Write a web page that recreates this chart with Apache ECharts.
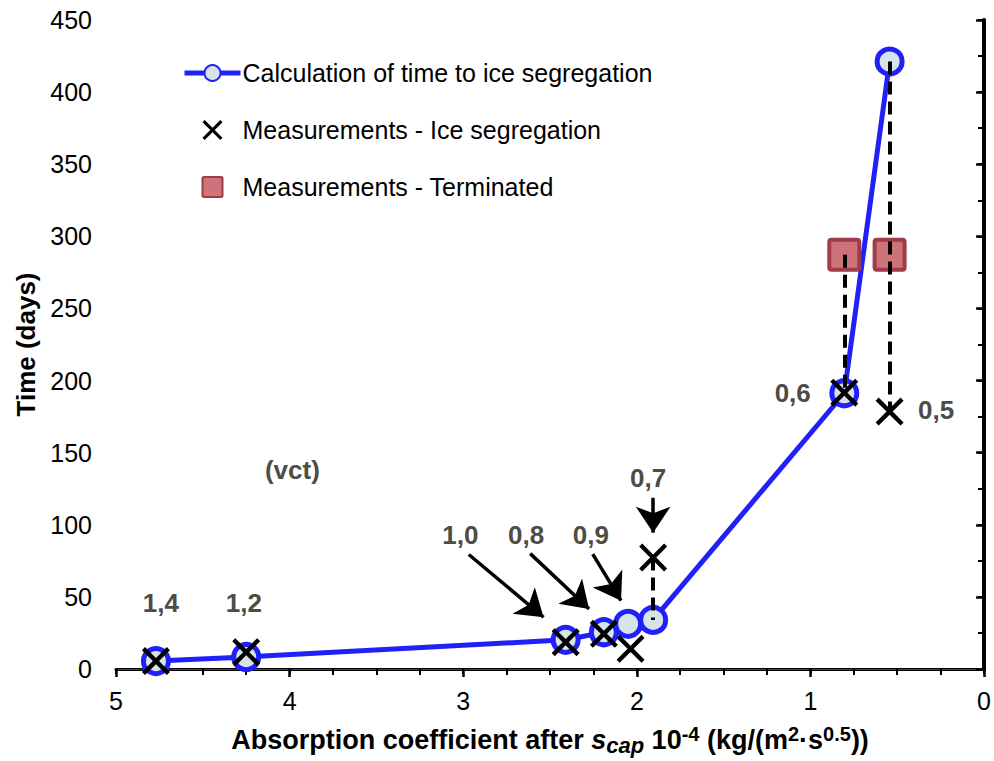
<!DOCTYPE html>
<html><head><meta charset="utf-8">
<script src="https://cdn.jsdelivr.net/npm/echarts@6/dist/echarts.min.js"></script>
<style>html,body{margin:0;padding:0;background:#fff}#c{width:994px;height:761px}</style>
</head><body><div id="c"></div>
<script>
// ---- data ----
const xCalc = [4.77, 4.25, 2.41, 2.19, 2.05, 1.906, 0.805, 0.544];
const yCalc = [5.5, 8.3, 20.2, 25.5, 31.3, 34, 191.2, 421.2];
const xIce = [4.77, 4.25, 2.41, 2.19, 2.036, 1.906, 0.805, 0.544];
const yIce = [5.5, 11.7, 18.6, 24.4, 14, 77.3, 191.6, 178.5];
const xTerm = [0.805, 0.544];
const yTerm = [287.3, 287.3];
const annTexts = ['1,4', '1,2', '1,0', '0,8', '0,9', '0,7', '0,6', '0,5', '(vct)'];
const annX = [4.742, 4.263, 3.016, 2.638, 2.265, 1.935, 1.102, 0.276, 3.984];
const annY = [45.5, 45.5, 92.8, 92.8, 92.8, 132.5, 191.2, 179.6, 138];
// arrows: [x0, y0, x1, y1] in data units
const arrows = [
  [2.968, 79.4, 2.537, 35.9],
  [2.614, 80, 2.275, 41.6],
  [2.254, 79.6, 2.091, 47.4],
  [1.906, 118.7, 1.906, 94.5]
];
const xTicks = [0, 1, 2, 3, 4, 5];
const yTicks = [0, 50, 100, 150, 200, 250, 300, 350, 400, 450];

const calcData = xCalc.map((x, i) => [x, yCalc[i]]);
const iceData = xIce.map((x, i) => [x, yIce[i]]);
const termData = xTerm.map((x, i) => [x, yTerm[i]]);
const annData = annX.map((x, i) => ({ value: [x, annY[i]], name: annTexts[i] }));
// dashed connectors between related points
const connectors = [
  [iceData[5], calcData[5]],
  [termData[0], calcData[6]],
  [calcData[7], iceData[7]]
];

const FONT = 'Liberation Sans, Arial, sans-serif';
const crossPath = 'path://M0,2.2L2.2,0L10,7.8L17.8,0L20,2.2L12.2,10L20,17.8L17.8,20L10,12.2L2.2,20L0,17.8L7.8,10Z';
const squarePath = 'path://M1.5,0H18.5Q20,0 20,1.5V18.5Q20,20 18.5,20H1.5Q0,20 0,18.5V1.5Q0,0 1.5,0Z';
const BLUE = '#2020f8';

const chart = echarts.init(document.getElementById('c'), null, { renderer: 'svg' });
chart.setOption({
  backgroundColor: '#fff',
  animation: false,
  textStyle: { fontFamily: FONT },
  grid: { left: 116, right: 7, top: 20, bottom: 89, containLabel: false },
  legend: {
    orient: 'vertical', left: 177, top: 55,
    itemWidth: 56, itemHeight: 20, itemGap: 31,
    data: [
      { name: 'Calculation of time to ice segregation', lineStyle: { width: 5 } },
      'Measurements - Ice segregation',
      'Measurements - Terminated'
    ],
    textStyle: { fontSize: 25, lineHeight: 26, color: '#000', fontFamily: FONT, padding: [0, 0, 0, -3] }
  },
  xAxis: [{
    type: 'value', min: 0, max: 5, interval: 1, inverse: true, position: 'bottom',
    axisLine: { show: true, lineStyle: { color: '#000', width: 3 } },
    splitLine: { show: false },
    axisTick: { show: true, inside: false, length: 8, lineStyle: { width: 2.5, color: '#000' } },
    minorTick: { show: true, splitNumber: 4, length: 6, lineStyle: { width: 2, color: '#000' } },
    axisLabel: { fontSize: 25, color: '#000', margin: 19, fontFamily: FONT,
      formatter: v => xTicks.includes(v) ? String(v) : '' },
    nameLocation: 'middle', nameGap: 55,
    name: '{b|Absorption coefficient after }{i|s}{sub|cap}{b| 10}{sup|-4}{b| (kg/(m}{sup|2}{b|·s}{sup|0.5}{b|))}',
    nameTextStyle: {
      rich: {
        b: { fontSize: 27, fontWeight: 'bold', fontFamily: FONT, color: '#000', lineHeight: 32, verticalAlign: 'middle' },
        i: { fontSize: 27, fontWeight: 'bold', fontStyle: 'italic', fontFamily: FONT, color: '#000', lineHeight: 32, verticalAlign: 'middle' },
        sub: { fontSize: 22, fontWeight: 'bold', fontStyle: 'italic', fontFamily: FONT, color: '#000', lineHeight: 20, verticalAlign: 'bottom' },
        sup: { fontSize: 20, fontWeight: 'bold', fontFamily: FONT, color: '#000', lineHeight: 19, verticalAlign: 'top' }
      }
    }
  }, {
    type: 'value', min: 0, max: 5, interval: 0.25, inverse: true, position: 'top',
    axisLine: { show: true, lineStyle: { color: '#444', width: 1.2 } },
    splitLine: { show: false },
    axisTick: { show: true, inside: true, length: 5, lineStyle: { width: 2, color: '#000' } },
    axisLabel: { show: false }
  }],
  yAxis: [{
    type: 'value', min: 0, max: 450, interval: 50, position: 'left',
    axisLine: { show: true, lineStyle: { color: '#000', width: 3 } },
    splitLine: { show: false },
    axisTick: { show: true, inside: false, length: 8, lineStyle: { width: 2.5, color: '#000' } },
    minorTick: { show: true, splitNumber: 2, length: 6, lineStyle: { width: 2, color: '#000' } },
    axisLabel: { fontSize: 25, color: '#000', margin: 24, fontFamily: FONT,
      formatter: v => yTicks.includes(v) ? String(v) : '' },
    name: 'Time (days)', nameLocation: 'middle', nameGap: 73, nameRotate: 90,
    nameTextStyle: { fontSize: 26, fontWeight: 'bold', color: '#000', fontFamily: FONT }
  }, {
    type: 'value', min: 0, max: 450, interval: 25, position: 'right',
    axisLine: { show: true, lineStyle: { color: '#000', width: 4 } },
    splitLine: { show: false },
    axisTick: { show: true, inside: true, length: 6, lineStyle: { width: 2, color: '#000' } },
    axisLabel: { show: false }
  }],
  series: [
    {
      name: 'connectors', type: 'line', data: [], xAxisIndex: 0, yAxisIndex: 0, silent: true, z: 1,
      markLine: {
        silent: true, symbol: ['none', 'none'], animation: false,
        lineStyle: { color: '#000', width: 4, type: [13, 7] },
        label: { show: false },
        data: connectors.map(c => [{ coord: c[0] }, { coord: c[1] }])
      }
    },
    {
      name: 'arrows', type: 'line', data: [], silent: true, z: 1,
      markLine: {
        silent: true, symbol: ['none', 'arrow'], symbolSize: 26, animation: false,
        lineStyle: { color: '#000', width: 3.5, type: 'solid' },
        itemStyle: { color: '#000' },
        label: { show: false },
        data: arrows.map(a => [{ coord: [a[0], a[1]] }, { coord: [a[2], a[3]] }])
      }
    },
    {
      name: 'Calculation of time to ice segregation', type: 'line', data: calcData, z: 3,
      symbol: 'circle', symbolSize: 25, showAllSymbol: true,
      lineStyle: { color: BLUE, width: 5 },
      itemStyle: { color: '#d6e3e8', borderColor: BLUE, borderWidth: 5, opacity: 1 }
    },
    {
      name: 'Measurements - Terminated', type: 'scatter', data: termData, z: 4,
      symbol: squarePath, symbolSize: 30,
      itemStyle: { color: '#cd7379', borderColor: '#9e3d47', borderWidth: 4, opacity: 1 }
    },
    {
      name: 'Measurements - Ice segregation', type: 'scatter', data: iceData, z: 5,
      symbol: crossPath, symbolSize: 28,
      itemStyle: { color: '#000', opacity: 1 }
    },
    {
      name: 'annotations', type: 'scatter', data: annData, z: 6, silent: true,
      symbolSize: 0, itemStyle: { opacity: 1 },
      label: { show: true, position: 'inside', formatter: p => p.name,
        fontSize: 26, fontWeight: 'bold', color: '#4d4c45', fontFamily: FONT }
    }
  ]
});
</script></body></html>
